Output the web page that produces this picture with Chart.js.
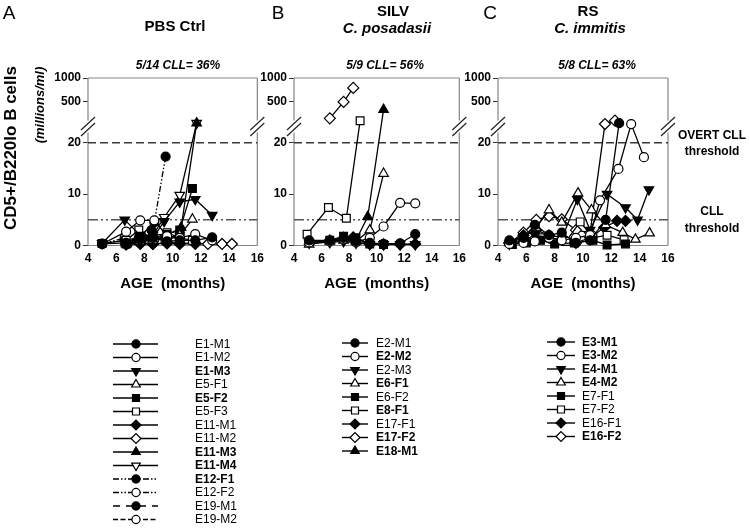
<!DOCTYPE html>
<html>
<head>
<meta charset="utf-8">
<script src="https://cdn.jsdelivr.net/npm/chart.js@4.4.0/dist/chart.umd.min.js"></script>
<style>
  body { margin: 0; background: #fff; }
  #wrap { position: relative; width: 750px; height: 530px; overflow: hidden; }
  canvas { position: absolute; top: 0; }
</style>
</head>
<body>
<div id="wrap">
  <canvas id="panelA" width="270" height="530" style="left:0px"></canvas>
  <canvas id="panelB" width="222" height="530" style="left:250px"></canvas>
  <canvas id="panelC" width="295" height="530" style="left:455px"></canvas>
</div>
<script>
// axis values
const ageTicks = [4, 6, 8, 10, 12, 14, 16];
const yTickValues = [0, 10, 20, 500, 1000];
const overtThreshold = 20;
const cllThreshold = 5;

// A: PBS Ctrl
const pbsNames = ['E1-M1', 'E1-M2', 'E1-M3', 'E5-F1', 'E5-F2', 'E5-F3', 'E11-M1', 'E11-M2', 'E11-M3', 'E11-M4', 'E12-F1', 'E12-F2', 'E19-M1', 'E19-M2'];
const pbsCll = [false, false, true, false, true, false, false, false, true, true, true, false, false, false];
const pbsAges = [
  [5.0, 6.7, 7.7, 8.6, 9.6, 10.5, 11.6, 12.8],
  [5.0, 6.7, 7.7, 8.7, 9.6, 10.5, 11.6, 12.8],
  [5.0, 6.6, 7.7, 8.6, 9.4, 10.5, 11.6, 12.8],
  [6.7, 7.7, 8.6, 9.6, 10.5, 11.4],
  [6.7, 7.7, 8.6, 9.6, 10.5, 11.4],
  [5.0, 6.7, 7.6, 8.6, 9.6, 10.5, 11.4],
  [6.7, 7.7, 8.6, 9.6, 10.5, 11.6],
  [6.7, 7.7, 8.6, 9.6, 10.5, 11.6, 12.5, 13.5, 14.2],
  [6.7, 7.7, 8.6, 9.6, 10.6, 11.7],
  [6.7, 7.7, 8.6, 9.4, 10.5, 11.7],
  [5.0, 6.6, 7.6, 8.7, 9.5],
  [5.0, 6.6, 7.6, 8.7, 9.5, 10.5],
  [6.8, 7.8, 8.5, 9.6, 10.5],
  [6.8, 7.8, 8.5, 9.6, 10.5]
];
const pbsValues = [
  [0.3, 0.5, 1.2, 1.5, 0.8, 1.0, 1.0, 1.6],
  [0.3, 2.7, 4.9, 4.9, 1.8, 1.5, 2.2, 1.0],
  [0.4, 5.0, 2.0, 1.5, 4.7, 8.5, 9.0, 5.9],
  [0.3, 0.8, 1.0, 1.5, 2.0, 5.1],
  [0.3, 1.0, 2.0, 2.2, 3.0, 11.1],
  [0.4, 1.0, 3.0, 1.2, 2.5, 1.5, 1.0],
  [0.2, 0.3, 0.3, 0.5, 0.4, 0.5],
  [0.2, 0.5, 0.3, 0.4, 0.3, 0.3, 0.3, 0.3, 0.3],
  [0.3, 0.8, 1.0, 2.0, 3.5, 270],
  [0.5, 1.5, 2.0, 5.5, 9.8, 270],
  [0.3, 1.0, 1.5, 4.5, 17.3],
  [0.3, 1.5, 1.0, 1.2, 0.8, 0.5],
  [0.3, 1.2, 3.0, 1.0, 2.5],
  [0.5, 1.8, 1.5, 1.2, 1.8]
];

// B: SILV C. posadasii
const silvNames = ['E2-M1', 'E2-M2', 'E2-M3', 'E6-F1', 'E6-F2', 'E8-F1', 'E17-F1', 'E17-F2', 'E18-M1'];
const silvCll = [false, true, false, true, false, true, false, true, true];
const silvAges = [
  [5.1, 6.6, 7.6, 8.5, 9.5, 10.5, 11.7, 12.8],
  [5.1, 6.6, 7.6, 8.5, 9.5, 10.5, 11.7, 12.8],
  [5.1, 6.6, 7.6, 8.5, 9.5, 10.5, 11.7, 12.8],
  [5.1, 6.6, 7.6, 8.5, 9.5, 10.5],
  [5.1, 6.6, 7.6, 8.5, 9.5, 10.5],
  [4.95, 6.5, 7.8, 8.8],
  [6.6, 7.6, 8.3, 9.5, 10.5, 11.7, 12.8],
  [6.6, 7.6, 8.3],
  [5.1, 6.6, 7.6, 8.5, 9.35, 10.5]
];
const silvValues = [
  [1.0, 1.0, 1.5, 0.8, 0.5, 0.3, 0.4, 2.2],
  [0.6, 0.8, 1.2, 0.6, 1.5, 3.7, 8.3, 8.2],
  [0.5, 0.6, 0.8, 0.5, 0.2, 0.2, 0.2, 0.2],
  [0.2, 0.8, 1.0, 0.8, 3.0, 14.0],
  [0.6, 1.0, 1.8, 1.5, 0.3, 0.2],
  [2.2, 7.4, 5.3, 290],
  [0.8, 1.2, 1.6, 0.3, 0.2, 0.2, 0.3],
  [310, 500, 750],
  [0.8, 1.0, 1.5, 1.0, 5.6, 400]
];

// C: RS C. immitis
const rsNames = ['E3-M1', 'E3-M2', 'E4-M1', 'E4-M2', 'E7-F1', 'E7-F2', 'E16-F1', 'E16-F2'];
const rsCll = [true, true, true, true, false, false, false, true];
const rsAges = [
  [4.8, 5.8, 6.6, 7.6, 8.5, 9.5, 10.5, 11.6, 12.55],
  [4.8, 5.8, 6.6, 7.6, 8.5, 9.5, 10.5, 11.2, 12.5, 13.4, 14.3],
  [4.8, 5.8, 6.6, 7.6, 8.5, 9.6, 10.5, 11.7, 13.0, 13.85, 14.65],
  [4.8, 5.8, 6.7, 7.6, 8.5, 9.65, 10.6, 11.6, 12.8, 13.7, 14.7],
  [5.0, 6.0, 7.0, 8.0, 9.4, 10.7, 11.7, 13.0],
  [5.0, 6.0, 7.0, 8.0, 8.8, 9.8, 10.7, 11.7, 12.9],
  [4.8, 5.8, 6.7, 7.6, 8.5, 9.5, 10.5, 11.5, 12.4, 13.0],
  [4.8, 5.8, 6.7, 7.6, 8.5, 9.5, 10.5, 11.55, 12.26]
];
const rsValues = [
  [1.0, 1.5, 4.0, 2.0, 2.5, 0.5, 1.0, 5.0, 270],
  [0.3, 0.5, 0.8, 1.5, 1.0, 1.5, 2.0, 8.8, 14.9, 263, 17.2],
  [0.3, 1.0, 2.0, 1.5, 1.2, 9.0, 3.0, 10.0, 7.4, 5.0, 10.9],
  [0.5, 1.5, 3.5, 6.9, 4.5, 10.2, 6.9, 4.0, 2.5, 1.2, 2.4],
  [0.2, 0.5, 1.0, 0.3, 0.5, 1.0, 0.1, 0.3],
  [0.2, 0.8, 1.5, 1.0, 0.8, 4.6, 1.5, 2.0, 1.1],
  [0.5, 2.0, 3.0, 2.0, 1.5, 0.5, 1.5, 3.5, 4.8, 4.8],
  [0.5, 2.5, 5.0, 5.7, 5.1, 3.0, 2.5, 263, 290]
];

// marker + line styles
const pbsMarkers = ['circle-f', 'circle-o', 'tridown-f', 'tri-o', 'rect-f', 'rect-o', 'diam-f', 'diam-o', 'tri-f', 'tridown-o', 'circle-f', 'circle-o', 'circle-f', 'circle-o'];
const pbsDashes = ['solid', 'solid', 'solid', 'solid', 'solid', 'solid', 'solid', 'solid', 'solid', 'solid', 'dashdot', 'dashdot', 'dash', 'dash2'];
const silvMarkers = ['circle-f', 'circle-o', 'tridown-f', 'tri-o', 'rect-f', 'rect-o', 'diam-f', 'diam-o', 'tri-f'];
const rsMarkers = ['circle-f', 'circle-o', 'tridown-f', 'tri-o', 'rect-f', 'rect-o', 'diam-f', 'diam-o'];

const markerStyle = {
  'circle-f': { style: 'circle', fill: true, rot: 0, r: 4.5 },
  'circle-o': { style: 'circle', fill: false, rot: 0, r: 4.5 },
  'tri-f': { style: 'triangle', fill: true, rot: 0, r: 5.5 },
  'tri-o': { style: 'triangle', fill: false, rot: 0, r: 5.5 },
  'tridown-f': { style: 'triangle', fill: true, rot: 180, r: 5.5 },
  'tridown-o': { style: 'triangle', fill: false, rot: 180, r: 5.5 },
  'rect-f': { style: 'rect', fill: true, rot: 0, r: 5.5 },
  'rect-o': { style: 'rect', fill: false, rot: 0, r: 5.5 },
  'diam-f': { style: 'rectRot', fill: true, rot: 0, r: 5.5 },
  'diam-o': { style: 'rectRot', fill: false, rot: 0, r: 5.5 }
};
const dashStyle = { solid: [], dashdot: [6, 2, 1.5, 2, 1.5, 2], dash: [7, 6], dash2: [5, 2.5] };

const FONT = "'Liberation Sans', Arial, sans-serif";
Chart.defaults.font.family = FONT;
Chart.defaults.color = '#000';

// broken y axis: linear 0-20, log above the break
function toDisplay(v) { return v <= 20 ? v : 27.95 + 4.65 * Math.log2(v / 500); }
function fromDisplay(d) { return d <= 20 ? d : 500 * Math.pow(2, (d - 27.95) / 4.65); }

class BrokenScale extends Chart.LinearScale {
  buildTicks() {
    super.buildTicks();
    return yTickValues.map(v => ({ value: v }));
  }
  getPixelForValue(value) { return super.getPixelForValue(toDisplay(value)); }
  getValueForPixel(pixel) { return fromDisplay(super.getValueForPixel(pixel)); }
}
BrokenScale.id = 'broken';
BrokenScale.defaults = Chart.LinearScale.defaults;
Chart.register(BrokenScale);

function buildDatasets(names, markers, dashes, ages, values) {
  return names.map((name, i) => {
    const m = markerStyle[markers[i]];
    return {
      label: name,
      data: ages[i].map((a, j) => ({ x: a, y: values[i][j] })),
      borderColor: '#000',
      borderWidth: 1.3,
      borderDash: dashStyle[dashes ? dashes[i] : 'solid'],
      pointStyle: m.style,
      pointRotation: m.rot,
      pointRadius: m.r,
      pointHoverRadius: m.r,
      pointBackgroundColor: m.fill ? '#000' : '#fff',
      pointBorderColor: '#000',
      pointBorderWidth: 1.2,
      tension: 0,
      fill: false,
      clip: false
    };
  });
}

function hline(ctx, x0, x1, y) {
  ctx.beginPath(); ctx.moveTo(x0, y); ctx.lineTo(x1, y); ctx.stroke();
}

function makeDecor(cfg) {
  return {
    id: 'panelDecor',
    beforeDatasetsDraw(chart) {
      const { ctx, chartArea: a } = chart;
      const y = chart.scales.y;
      const by = y.getPixelForValue(245);
      ctx.save();
      // frame with gaps at the break
      ctx.strokeStyle = '#858585';
      ctx.lineWidth = 1.2;
      hline(ctx, a.left, a.right, a.top);
      hline(ctx, a.left, a.right, a.bottom);
      [a.left, a.right].forEach(x => {
        ctx.beginPath();
        ctx.moveTo(x, a.top); ctx.lineTo(x, by - 6);
        ctx.moveTo(x, by + 6); ctx.lineTo(x, a.bottom);
        ctx.stroke();
      });
      ctx.strokeStyle = '#222';
      [a.left, a.right].forEach(x => {
        [-3, 3].forEach(off => {
          ctx.beginPath();
          ctx.moveTo(x - 7, by + off + 6.5);
          ctx.lineTo(x + 7, by + off - 6.5);
          ctx.stroke();
        });
      });
      // thresholds
      ctx.lineWidth = 1.5;
      ctx.strokeStyle = '#3a3a3a';
      ctx.setLineDash([8, 4]);
      hline(ctx, a.left, a.right, y.getPixelForValue(overtThreshold));
      ctx.strokeStyle = '#555';
      ctx.setLineDash([10, 3, 2, 3, 2, 3]);
      hline(ctx, a.left, a.right, y.getPixelForValue(cllThreshold));
      ctx.restore();
    },
    afterDraw(chart) {
      const { ctx, chartArea: a } = chart;
      const ox = cfg.left;
      ctx.save();
      ctx.fillStyle = '#000';
      ctx.textAlign = 'center';
      ctx.textBaseline = 'middle';
      cfg.texts.forEach(t => {
        ctx.font = t.font + ' ' + FONT;
        ctx.fillText(t.text, t.x - ox, t.y);
      });
      ctx.font = 'bold 15px ' + FONT;
      ctx.fillText('AGE  (months)', (a.left + a.right) / 2, 284);
      if (cfg.yTitle) {
        ctx.save();
        ctx.translate(11, 148);
        ctx.rotate(-Math.PI / 2);
        ctx.font = 'bold 17px ' + FONT;
        ctx.fillText('CD5+/B220lo B cells', 0, 0);
        ctx.restore();
        ctx.save();
        ctx.translate(40, 105);
        ctx.rotate(-Math.PI / 2);
        ctx.font = 'italic bold 13px ' + FONT;
        ctx.fillText('(millions/ml)', 0, 0);
        ctx.restore();
      }
      // legend
      const lg = cfg.legend;
      chart.data.datasets.forEach((ds, i) => {
        const yy = lg.y0 + i * lg.dy;
        ctx.strokeStyle = '#000';
        ctx.lineWidth = 1.4;
        ctx.setLineDash(ds.borderDash);
        hline(ctx, lg.x0 - ox, lg.x1 - ox, yy);
        ctx.setLineDash([]);
        ctx.fillStyle = ds.pointBackgroundColor;
        ctx.lineWidth = 1.2;
        Chart.helpers.drawPoint(ctx, {
          pointStyle: ds.pointStyle, rotation: ds.pointRotation,
          radius: ds.pointRadius * 0.9, borderWidth: 1.2
        }, lg.mx - ox, yy);
        ctx.fillStyle = '#000';
        ctx.textAlign = 'left';
        ctx.font = (cfg.bold[i] ? 'bold ' : '') + '12px ' + FONT;
        ctx.fillText(ds.label, lg.tx - ox, yy + 0.5);
      });
      ctx.restore();
    }
  };
}

function makePanel(id, cfg, datasets) {
  return new Chart(document.getElementById(id), {
    type: 'line',
    data: { datasets },
    options: {
      responsive: false,
      animation: false,
      events: [],
      layout: { padding: { left: cfg.padLeft, right: cfg.padRight, top: 78, bottom: 0 } },
      plugins: { legend: { display: false }, tooltip: { enabled: false } },
      scales: {
        x: {
          type: 'linear', min: ageTicks[0], max: ageTicks[ageTicks.length - 1],
          afterBuildTicks: s => { s.ticks = ageTicks.map(v => ({ value: v })); },
          ticks: { font: { weight: 'bold', size: 12 }, padding: 6, maxRotation: 0 },
          grid: { display: false, drawTicks: false },
          border: { display: false },
          afterFit: s => { s.height = 284.5; }
        },
        y: {
          type: 'broken', min: 0, max: 32.6,
          ticks: { callback: v => String(v), font: { weight: 'bold', size: 12 }, padding: 2, autoSkip: false },
          grid: { display: true, drawOnChartArea: false, drawTicks: true, tickLength: 5, color: '#333', lineWidth: 1 },
          border: { display: false },
          afterFit: s => { s.width = 40; }
        }
      }
    },
    plugins: [makeDecor(cfg)]
  });
}

makePanel('panelA', {
  left: 0, padLeft: 48, padRight: 12, yTitle: true, bold: pbsCll,
  texts: [
    { text: 'A', x: 9, y: 14, font: '19px' },
    { text: 'PBS Ctrl', x: 175, y: 27, font: 'bold 15px' },
    { text: '5/14 CLL= 36%', x: 178, y: 66, font: 'italic bold 12px' }
  ],
  legend: { x0: 113, x1: 158, mx: 136, tx: 195, y0: 344, dy: 13.5 }
}, buildDatasets(pbsNames, pbsMarkers, pbsDashes, pbsAges, pbsValues));

makePanel('panelB', {
  left: 250, padLeft: 4, padRight: 8, yTitle: false, bold: silvCll,
  texts: [
    { text: 'B', x: 278, y: 14, font: '19px' },
    { text: 'SILV', x: 393, y: 12, font: 'bold 15px' },
    { text: 'C. posadasii', x: 387, y: 29, font: 'italic bold 15px' },
    { text: '5/9 CLL= 56%', x: 385, y: 66, font: 'italic bold 12px' }
  ],
  legend: { x0: 342, x1: 368, mx: 355, tx: 376, y0: 343, dy: 13.5 }
}, buildDatasets(silvNames, silvMarkers, null, silvAges, silvValues));

makePanel('panelC', {
  left: 455, padLeft: 3, padRight: 82, yTitle: false, bold: rsCll,
  texts: [
    { text: 'C', x: 490, y: 14, font: '19px' },
    { text: 'RS', x: 588, y: 12, font: 'bold 15px' },
    { text: 'C. immitis', x: 590, y: 29, font: 'italic bold 15px' },
    { text: '5/8 CLL= 63%', x: 597, y: 66, font: 'italic bold 12px' },
    { text: 'OVERT CLL', x: 712, y: 136, font: 'bold 12px' },
    { text: 'threshold', x: 712, y: 152, font: 'bold 12px' },
    { text: 'CLL', x: 712, y: 212, font: 'bold 12px' },
    { text: 'threshold', x: 712, y: 229, font: 'bold 12px' }
  ],
  legend: { x0: 547, x1: 575, mx: 561, tx: 582, y0: 342, dy: 13.5 }
}, buildDatasets(rsNames, rsMarkers, null, rsAges, rsValues));
</script>
</body>
</html>
